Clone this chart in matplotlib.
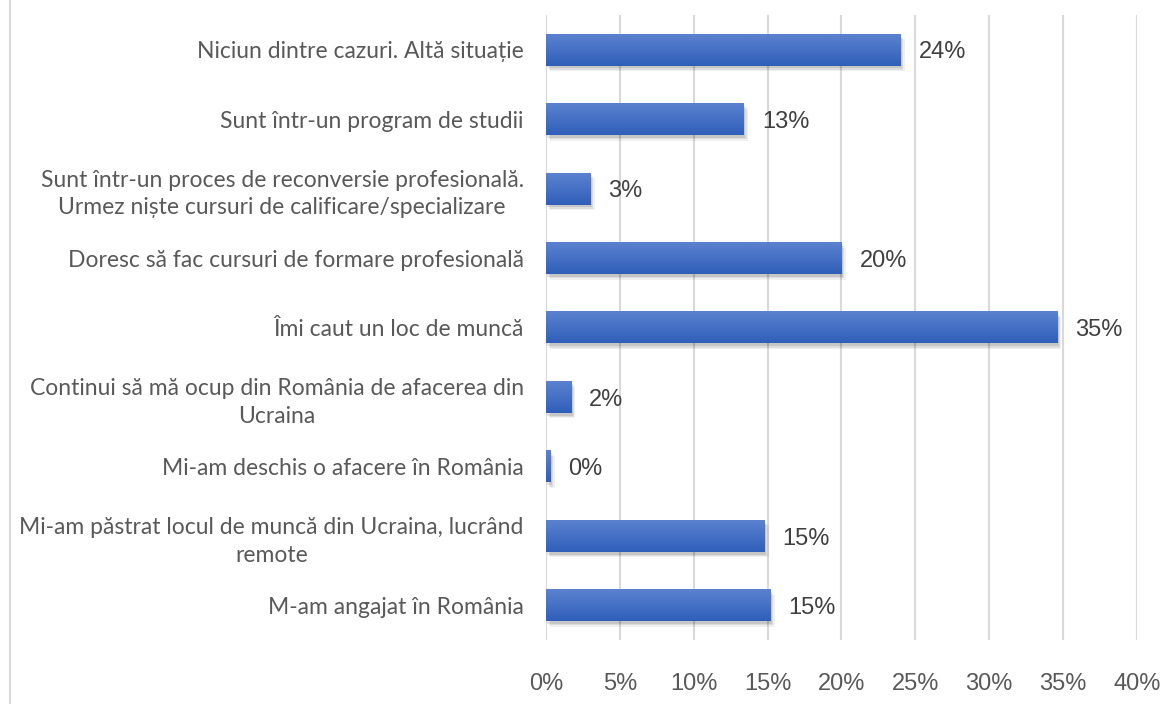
import matplotlib.pyplot as plt
import matplotlib.transforms as mtransforms
import numpy as np
from matplotlib.colors import LinearSegmentedColormap
from matplotlib.lines import Line2D
from matplotlib.patches import Rectangle

# Categories listed bottom to top, as drawn on the y axis
categories = [
    "M-am angajat în România",
    "Mi-am păstrat locul de muncă din Ucraina, lucrând\nremote",
    "Mi-am deschis o afacere în România",
    "Continui să mă ocup din România de afacerea din\nUcraina",
    "Îmi caut un loc de muncă",
    "Doresc să fac cursuri de formare profesională",
    "Sunt într-un proces de reconversie profesională.\nUrmez niște cursuri de calificare/specializare",
    "Sunt într-un program de studii",
    "Niciun dintre cazuri. Altă situație",
]
values = [15.2, 14.8, 0.3, 1.7, 34.6, 20.0, 3.0, 13.4, 24.0]
x_ticks = [0, 5, 10, 15, 20, 25, 30, 35, 40]

label_font = ["Lato", "Noto Sans", "DejaVu Sans"]
num_font = ["Liberation Sans", "DejaVu Sans"]

fig = plt.figure(figsize=(11.76, 7.04), dpi=100)
ax = fig.add_axes([0.4643, 0.0909, 0.5025, 0.8878])

y = np.arange(len(categories))
bar_h = 0.46
bars = ax.barh(y, values, height=bar_h, color="none", zorder=3)

# gradient fill + soft shadow for each bar
grad = LinearSegmentedColormap.from_list("bar", ["#2F5FB9", "#5B82D0"])
gimg = np.linspace(0, 1, 64).reshape(-1, 1)
for b in bars:
    x0, y0 = b.get_x(), b.get_y()
    w, h = b.get_width(), b.get_height()
    for k, a in enumerate([0.10, 0.08, 0.06]):
        sh = Rectangle((x0, y0), w, h, facecolor="black", alpha=a, lw=0,
                       transform=mtransforms.offset_copy(ax.transData, fig=fig,
                                                         x=1 + k, y=-2 - k, units="points"),
                       zorder=2)
        ax.add_patch(sh)
    ax.imshow(gimg, cmap=grad, aspect="auto", origin="lower",
              extent=(x0, x0 + w, y0, y0 + h), zorder=3)

for yi, v in zip(y, values):
    ax.annotate(f"{round(v)}%", (v, yi), xytext=(13, -2), textcoords="offset points",
                va="center", ha="left", fontsize=17, color="#404040", family=num_font)

ax.set_xlim(0, 40)
ax.set_ylim(-0.5, len(categories) - 0.5)
ax.set_xticks(x_ticks)
ax.set_xticklabels([f"{t}%" for t in x_ticks], fontsize=17, color="#595959", family=num_font)
ax.set_yticks(y)
ax.set_yticklabels(categories, fontsize=16.5, color="#595959", family=label_font,
                   multialignment="center", linespacing=1.4)
ax.tick_params(axis="both", length=0)
ax.tick_params(axis="y", pad=16)
ax.tick_params(axis="x", pad=24)
ax.grid(axis="x", color="#D9D9D9", lw=1.5, zorder=0)
ax.set_axisbelow(True)
for s in ax.spines.values():
    s.set_visible(False)

# thin frame line on the left edge of the chart area
fig.add_artist(Line2D([10 / 1176, 10 / 1176], [0, 1], color="#D9D9D9", lw=1.5))

fig.savefig("out.png", dpi=100)
